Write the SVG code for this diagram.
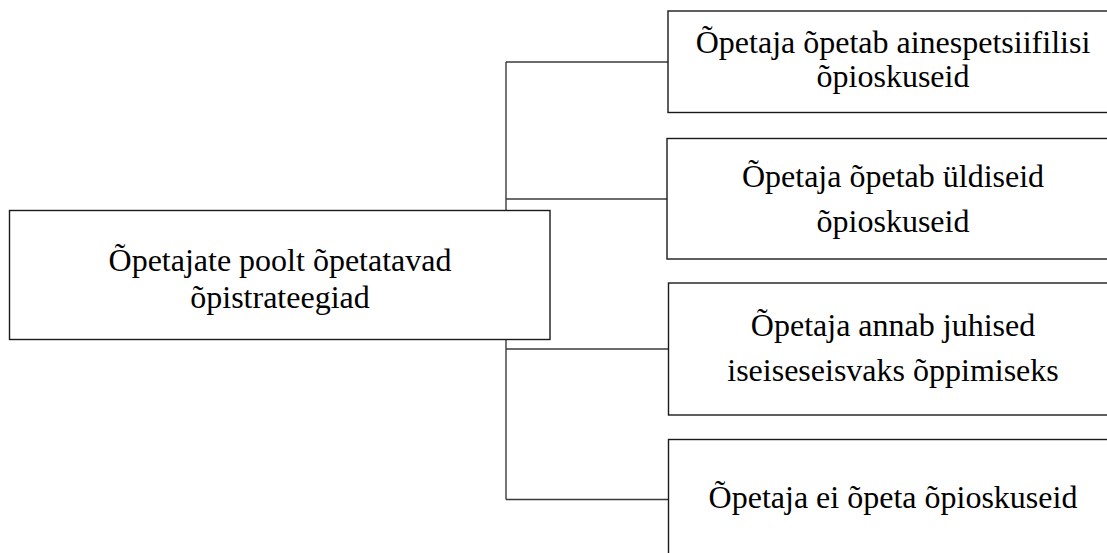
<svg xmlns="http://www.w3.org/2000/svg" width="1107" height="553" viewBox="0 0 1107 553">
<style>
.box{fill:#fff;stroke:#1a1a1a;stroke-width:1.4}
.conn{fill:none;stroke:#3a3a3a;stroke-width:1.4}
.t{font-family:"Liberation Serif","Times New Roman",serif;font-size:32px;fill:#000;text-anchor:middle}
</style>
<rect width="1107" height="553" fill="#fff"/>
<g id="connectors">
<path class="conn" d="M506,62 V499.5"/>
<path class="conn" d="M506,62 H668"/>
<path class="conn" d="M506,199 H668"/>
<path class="conn" d="M506,349 H668"/>
<path class="conn" d="M506,499.5 H668"/>
</g>
<g id="root">
<rect class="box" x="9.5" y="210.5" width="540.5" height="129"/>
<text class="t" x="280" y="271">Õpetajate poolt õpetatavad</text>
<text class="t" x="280" y="308">õpistrateegiad</text>
</g>
<g id="n1">
<rect class="box" x="668" y="11" width="450" height="101.5"/>
<text class="t" x="893" y="53">Õpetaja õpetab ainespetsiifilisi</text>
<text class="t" x="893" y="87">õpioskuseid</text>
</g>
<g id="n2">
<rect class="box" x="667" y="138.5" width="451" height="120.5"/>
<text class="t" x="893" y="187">Õpetaja õpetab üldiseid</text>
<text class="t" x="893" y="232">õpioskuseid</text>
</g>
<g id="n3">
<rect class="box" x="668.5" y="283" width="450" height="132"/>
<text class="t" x="893" y="336">Õpetaja annab juhised</text>
<text class="t" x="893" y="381">iseiseseisvaks õppimiseks</text>
</g>
<g id="n4">
<rect class="box" x="668.5" y="439.5" width="450" height="130"/>
<text class="t" x="893" y="508">Õpetaja ei õpeta õpioskuseid</text>
</g>
</svg>
